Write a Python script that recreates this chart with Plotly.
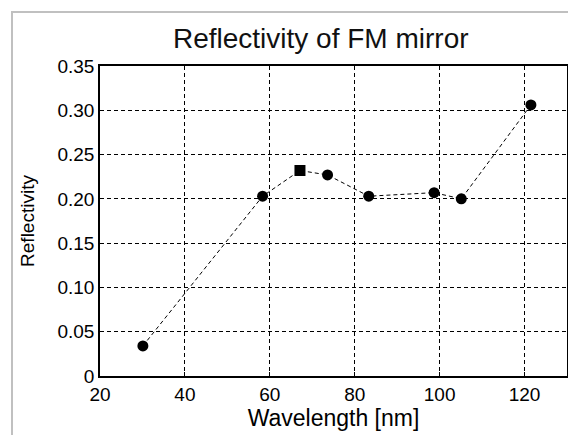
import plotly.graph_objects as go

wavelength = [30.1, 58.3, 67.1, 73.6, 83.3, 98.7, 105.1, 121.5]
reflectivity = [0.034, 0.203, 0.232, 0.227, 0.203, 0.207, 0.200, 0.306]
symbols = ["circle", "circle", "square", "circle", "circle", "circle", "circle", "circle"]

x_ticks = [20, 40, 60, 80, 100, 120]
y_ticks = [0, 0.05, 0.10, 0.15, 0.20, 0.25, 0.30, 0.35]
y_ticktext = ["0", "0.05", "0.10", "0.15", "0.20", "0.25", "0.30", "0.35"]

FONT = "Liberation Sans, Arial, sans-serif"
OFF = 8  # default page body margin of the html page

fig = go.Figure()
fig.add_trace(go.Scatter(
    x=wavelength, y=reflectivity, mode="lines+markers",
    line=dict(color="black", width=1, dash="4px,3px"),
    marker=dict(color="black", size=11, symbol=symbols),
    showlegend=False,
))

fig.update_layout(
    width=576, height=435,
    margin=dict(l=100 - OFF, r=576 - 567 + OFF, t=66 - OFF, b=435 - 376 + OFF),
    paper_bgcolor="white", plot_bgcolor="white",
    font=dict(family=FONT, color="black", size=18),
    title=dict(text="Reflectivity of FM mirror", x=0.543, xanchor="center",
               y=1 - (38 - OFF) / 435, yanchor="middle", font=dict(size=28, color="#111")),
    shapes=[dict(type="rect", xref="paper", yref="paper",
                 x0=-88 / 467, x1=(573 - 100) / 467,
                 y0=-0.3, y1=(376 - 12) / 310,
                 line=dict(color="#c0c0c0", width=2), layer="below")],
)
fig.update_xaxes(
    range=[20, 130], tickvals=x_ticks, ticks="inside", ticklen=4, tickcolor="black",
    showline=True, linecolor="black", linewidth=1.5, mirror=True,
    showgrid=True, gridcolor="black", gridwidth=1, griddash="4px,3px",
    zeroline=False, tickfont=dict(size=19),
    title=dict(text="Wavelength [nm]", font=dict(size=23), standoff=2),
)
fig.update_yaxes(
    range=[0, 0.35], tickvals=y_ticks, ticktext=y_ticktext, ticks="inside", ticklen=4,
    tickcolor="black",
    showline=True, linecolor="black", linewidth=1.5, mirror=True,
    showgrid=True, gridcolor="black", gridwidth=1, griddash="4px,3px",
    zeroline=False, tickfont=dict(size=19),
    title=dict(text="Reflectivity", font=dict(size=19), standoff=18),
)

fig.write_html("out.html")
